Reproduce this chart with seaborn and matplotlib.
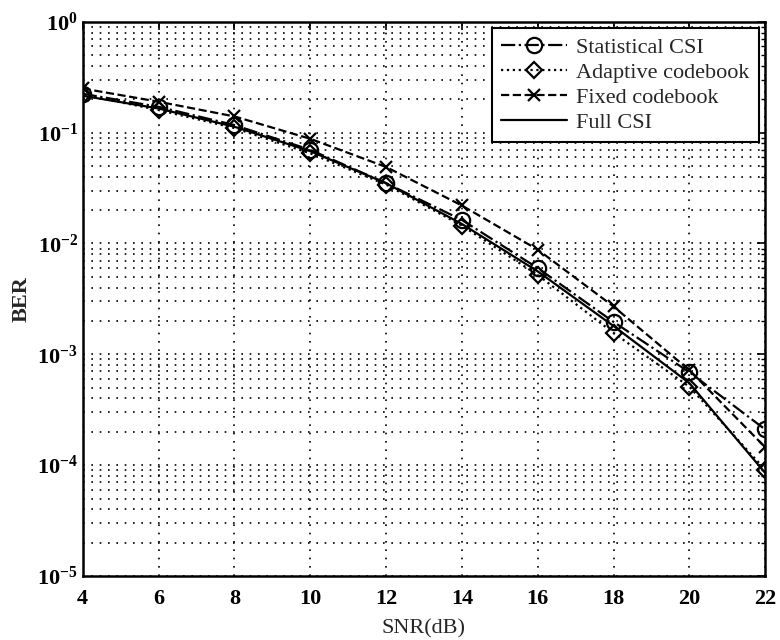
import matplotlib
matplotlib.use('Agg')
import matplotlib.pyplot as plt
import seaborn as sns
import pandas as pd
from matplotlib.ticker import LogLocator, NullFormatter, FixedLocator

# Values
snr = [4, 6, 8, 10, 12, 14, 16, 18, 20, 22]
ber_statistical = [0.224, 0.171, 0.117, 0.070, 0.035, 0.0163, 0.0060, 0.00196, 0.00069, 0.00021]
ber_adaptive = [0.220, 0.160, 0.110, 0.065, 0.034, 0.0145, 0.0052, 0.00156, 0.00051, 0.000091]
ber_fixed = [0.250, 0.190, 0.140, 0.088, 0.049, 0.022, 0.0088, 0.0027, 0.00072, 0.000145]
ber_full = [0.215, 0.165, 0.113, 0.068, 0.035, 0.0150, 0.0056, 0.0018, 0.00055, 0.000085]

series_names = ['Statistical CSI', 'Adaptive codebook', 'Fixed codebook', 'Full CSI']
series_values = [ber_statistical, ber_adaptive, ber_fixed, ber_full]
y_ticks = [1e-5, 1e-4, 1e-3, 1e-2, 1e-1, 1e0]
y_ticklabels = [r'$\mathbf{10^{-5}}$', r'$\mathbf{10^{-4}}$', r'$\mathbf{10^{-3}}$',
                r'$\mathbf{10^{-2}}$', r'$\mathbf{10^{-1}}$', r'$\mathbf{10^{0}}$']

df = pd.concat([pd.DataFrame({'SNR': snr, 'BER': vals, 'scheme': name})
                for name, vals in zip(series_names, series_values)], ignore_index=True)

sns.set_style('white')
plt.rcParams['font.family'] = ['Liberation Serif', 'DejaVu Serif']
plt.rcParams['mathtext.fontset'] = 'custom'
plt.rcParams['mathtext.rm'] = 'Liberation Serif'
plt.rcParams['mathtext.bf'] = 'Liberation Serif:bold'
plt.rcParams['mathtext.it'] = 'Liberation Serif:italic'

styles = {
    'Statistical CSI': dict(linestyle='-.', marker='o', markersize=11),
    'Adaptive codebook': dict(linestyle=':', marker='D', markersize=8),
    'Fixed codebook': dict(linestyle='--', marker='x', markersize=8),
    'Full CSI': dict(linestyle='-', marker=None),
}

fig = plt.figure(figsize=(7.8, 6.4), dpi=100)
ax = fig.add_axes([0.106, 0.1, 0.875, 0.866])

for name in series_names:
    st = styles[name]
    sub = df[df['scheme'] == name]
    sns.lineplot(data=sub, x='SNR', y='BER', ax=ax, color='black', linewidth=1.6,
                 linestyle=st['linestyle'], marker=st['marker'],
                 markersize=st.get('markersize', 6), markerfacecolor='none',
                 markeredgecolor='black', markeredgewidth=1.6, label=name)

ax.set_yscale('log')
ax.set_xlim(4, 22)
ax.set_ylim(1e-5, 1)
ax.set_xticks(snr)
ax.yaxis.set_major_locator(FixedLocator(y_ticks))
ax.set_yticklabels(y_ticklabels)
ax.yaxis.set_minor_locator(LogLocator(base=10, subs=range(2, 10), numticks=20))
ax.yaxis.set_minor_formatter(NullFormatter())

dots = (0, (1, 4))
ax.grid(True, which='major', axis='both', color='black', linestyle=dots, linewidth=1.2)
ax.grid(True, which='minor', axis='y', color='black', linestyle=dots, linewidth=1.2)

ax.tick_params(axis='both', which='both', direction='in', top=True, right=True, colors='black')
ax.tick_params(axis='both', which='major', length=6, width=1.2, labelsize=16)
ax.tick_params(axis='x', which='major', pad=9)
ax.tick_params(axis='both', which='minor', length=3, width=1.0)
for lbl in ax.get_xticklabels():
    lbl.set_fontweight('bold')
for spine in ax.spines.values():
    spine.set_color('black')
    spine.set_linewidth(1.8)

ax.set_xlabel('SNR(dB)', fontsize=16, labelpad=8)
ax.set_ylabel('BER', fontsize=16, fontweight='bold', labelpad=4)

leg = ax.legend(loc='upper right', fontsize=16, frameon=True, fancybox=False,
                edgecolor='black', framealpha=1, borderaxespad=0.3,
                handlelength=3.0, handletextpad=0.4, labelspacing=0.2, borderpad=0.4)
leg.get_frame().set_linewidth(1.5)

fig.savefig('out.png', dpi=100)
